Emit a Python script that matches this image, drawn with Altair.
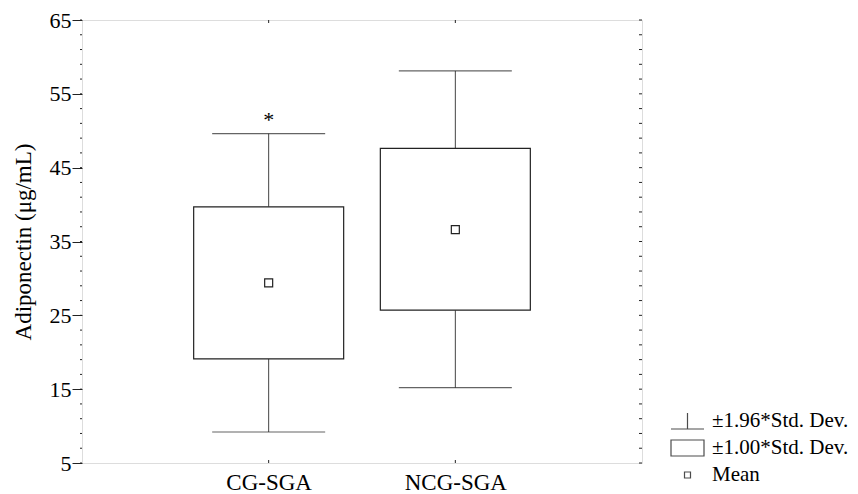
import altair as alt
import pandas as pd
import numpy as np

# ---- data ----
groups = ["CG-SGA", "NCG-SGA"]
means = [29.4, 36.6]
box_low = [19.1, 25.7]          # mean - 1.00*SD
box_high = [39.7, 47.6]         # mean + 1.00*SD
whisker_low = [9.2, 15.2]       # mean - 1.96*SD
whisker_high = [49.6, 58.1]     # mean + 1.96*SD

star_group = ["CG-SGA"]
star_y = [51.4]
star_text = ["*"]

y_major = [5, 15, 25, 35, 45, 55, 65]
y_minor = list(range(5, 66, 2))

legend_items = ["±1.96*Std. Dev.", "±1.00*Std. Dev.", "Mean"]
legend_paths = [
    "M-1.65,0.8L1.65,0.8M0,0.8L0,-0.8",
    "M-1.65,-0.8L1.65,-0.8L1.65,0.8L-1.65,0.8Z",
    "M-0.3,-0.3L0.3,-0.3L0.3,0.3L-0.3,0.3Z",
]

FONT = "Liberation Serif"
LINE = "#222222"

df = pd.DataFrame({
    "group": groups, "mean": means, "box_low": box_low, "box_high": box_high,
    "wlow": whisker_low, "whigh": whisker_high,
})
star_df = pd.DataFrame({"group": star_group, "y": star_y, "t": star_text})
minor_df = pd.DataFrame({"v": y_minor})
leg_df = pd.DataFrame({"item": legend_items, "y": [np.nan] * 3})

xscale = alt.Scale(type="point", padding=1, domain=groups)
yscale = alt.Scale(domain=[5, 65], nice=False, zero=False)

x_enc = alt.X("group:N", scale=xscale, sort=groups,
              axis=alt.Axis(title=None, ticks=False, domain=False, labelAngle=0,
                            labelFont=FONT, labelFontSize=23, labelColor="black",
                            labelPadding=8))
y_enc = alt.Y("wlow:Q", scale=yscale,
              axis=alt.Axis(values=y_major, title="Adiponectin (μg/mL)", grid=False,
                            domain=False, tickSize=10, tickColor=LINE, labelPadding=1,
                            labelFont=FONT, labelFontSize=22, labelColor="black",
                            titleFont=FONT, titleFontSize=23, titleFontWeight="normal",
                            titleColor="black", titlePadding=14))

base = alt.Chart(df)

stem_low = base.mark_rule(color="#444", strokeWidth=1).encode(
    x=x_enc, y=y_enc, y2="box_low:Q")
stem_high = base.mark_rule(color="#444", strokeWidth=1).encode(
    x="group:N", y=alt.Y("box_high:Q", scale=yscale), y2="whigh:Q")
cap_low = base.mark_tick(color=LINE, size=113, thickness=1.2, orient="horizontal").encode(
    x="group:N", y=alt.Y("wlow:Q", scale=yscale))
cap_high = base.mark_tick(color=LINE, size=113, thickness=1.2, orient="horizontal").encode(
    x="group:N", y=alt.Y("whigh:Q", scale=yscale))
box = base.mark_bar(fill="white", stroke=LINE, strokeWidth=1.2, size=150).encode(
    x="group:N", y=alt.Y("box_low:Q", scale=yscale), y2="box_high:Q")
mean_pt = base.mark_point(shape="square", size=64, filled=False, color=LINE,
                          strokeWidth=1.2, opacity=1).encode(
    x="group:N", y=alt.Y("mean:Q", scale=yscale))

star = alt.Chart(star_df).mark_text(font=FONT, fontSize=22, color="black",
                                    baseline="middle").encode(
    x="group:N", y=alt.Y("y:Q", scale=yscale), text="t:N")

# small frame ticks
bottom_ticks = alt.Chart(df).mark_rule(color=LINE).encode(
    x="group:N", y=alt.value(443), y2=alt.value(440))
top_ticks = alt.Chart(df).mark_rule(color=LINE).encode(
    x="group:N", y=alt.value(0), y2=alt.value(3))
right_ticks = alt.Chart(minor_df).mark_rule(color=LINE).encode(
    y=alt.Y("v:Q", scale=yscale), x=alt.value(560), x2=alt.value(557))
left_minor = alt.Chart(minor_df).mark_rule(color=LINE).encode(
    y=alt.Y("v:Q", scale=yscale), x=alt.value(0), x2=alt.value(-2))

legend_layer = alt.Chart(leg_df).mark_point(filled=False, color="black", strokeWidth=1).encode(
    y=alt.Y("y:Q", scale=yscale),
    shape=alt.Shape("item:N",
                    scale=alt.Scale(domain=legend_items, range=legend_paths),
                    legend=alt.Legend(title=None, orient="none", legendX=594.5, legendY=390,
                                      symbolSize=400, labelOffset=13.5, rowPadding=5,
                                      padding=0, labelFont=FONT, labelFontSize=21,
                                      labelColor="black", symbolStrokeColor="black",
                                      symbolStrokeWidth=1.2)),
)

chart = alt.layer(
    stem_low, stem_high, cap_low, cap_high, box, mean_pt, star,
    bottom_ticks, top_ticks, right_ticks, left_minor, legend_layer,
).properties(
    width=560, height=443,
    autosize=alt.AutoSizeParams(type="none"),
    padding={"left": 74, "top": 12, "right": 208, "bottom": 31},
    background="white",
).configure_view(
    stroke="#333333", strokeWidth=1.2
).configure(
    font=FONT
).configure_axis(
    labelFont=FONT, titleFont=FONT
).configure_legend(
    labelFont=FONT
)

chart.save("out.html", embed_options={"renderer": "svg", "actions": False})
